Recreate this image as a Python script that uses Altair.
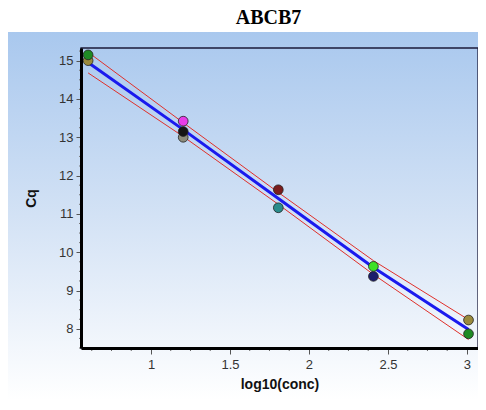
import altair as alt
import pandas as pd

# Data
pt_x = [0.602, 0.602, 1.204, 1.204, 1.204, 1.806, 1.806, 2.408, 2.408, 3.010, 3.010]
pt_cq = [15.00, 15.15, 13.00, 13.15, 13.42, 11.63, 11.16, 9.37, 9.63, 8.23, 7.87]
pt_color = ["#9a8a3c", "#1f8a24", "#8c8c7c", "#151515", "#e83ce8", "#7a1c1c",
            "#2a8c8c", "#1c1c6c", "#3ee028", "#9a8a3c", "#1f8a24"]

fit_x = [0.602, 1.204, 1.806, 2.408, 3.010]
fit_y = [14.95, 13.20, 11.40, 9.60, 7.98]
upper_y = [15.22, 13.38, 11.56, 9.78, 8.24]
lower_y = [14.68, 13.02, 11.25, 9.42, 7.72]

x_major = [1, 1.5, 2, 2.5, 3]
y_major = [8, 9, 10, 11, 12, 13, 14, 15]
x_minor = [0.625, 0.75, 0.875, 1.125, 1.25, 1.375, 1.625, 1.75, 1.875,
           2.125, 2.25, 2.375, 2.625, 2.75, 2.875]
y_minor = [7.5, 7.75, 8.25, 8.5, 8.75, 9.25, 9.5, 9.75, 10.25, 10.5, 10.75,
           11.25, 11.5, 11.75, 12.25, 12.5, 12.75, 13.25, 13.5, 13.75,
           14.25, 14.5, 14.75, 15.25]

W, H = 397, 300

points = pd.DataFrame({"x": pt_x, "cq": pt_cq, "c": pt_color})
fit = pd.DataFrame({"x": fit_x, "cq": fit_y})
band = pd.DataFrame({
    "x": fit_x + fit_x,
    "cq": upper_y + lower_y,
    "band": ["upper"] * len(fit_x) + ["lower"] * len(fit_x),
})

xscale = alt.Scale(domain=[0.557, 3.07], nice=False, zero=False)
yscale = alt.Scale(domain=[7.5, 15.33], nice=False, zero=False)

xaxis = alt.Axis(title="log10(conc)", values=x_major, grid=False, tickSize=6,
                 format="~g", labelPadding=4, titlePadding=6, zindex=2)
yaxis = alt.Axis(title="Cq", values=y_major, grid=False, tickSize=5,
                 format="~g", labelPadding=3, titlePadding=20, zindex=2)

grad = alt.LinearGradient(
    gradient="linear", x1=0, y1=0, x2=0, y2=1,
    stops=[alt.GradientStop(color="#a9c8ee", offset=0),
           alt.GradientStop(color="#d3e2f5", offset=0.5),
           alt.GradientStop(color="#ffffff", offset=1)],
)

bg = alt.Chart(pd.DataFrame({"a": [0]})).mark_rect(fill=grad).encode(
    x=alt.value(-76), x2=alt.value(399), y=alt.value(-16), y2=alt.value(352)
)

border = alt.Chart(pd.DataFrame({"a": [0]})).mark_rect(
    filled=False, stroke="#1b1b3b", strokeWidth=1.3
).encode(x=alt.value(0), x2=alt.value(W), y=alt.value(0), y2=alt.value(H))

xminor = alt.Chart(pd.DataFrame({"x": x_minor})).mark_rule(
    color="#666666", strokeWidth=1
).encode(x=alt.X("x:Q", scale=xscale), y=alt.value(H), y2=alt.value(H + 3))

yminor = alt.Chart(pd.DataFrame({"y": y_minor})).mark_rule(
    color="#777777", strokeWidth=1
).encode(y=alt.Y("y:Q", scale=yscale), x=alt.value(-2), x2=alt.value(0))

band_lines = alt.Chart(band).mark_line(color="#e0302a", strokeWidth=1).encode(
    x=alt.X("x:Q", scale=xscale, axis=xaxis),
    y=alt.Y("cq:Q", scale=yscale, axis=yaxis),
    detail="band:N",
)

fit_line = alt.Chart(fit).mark_line(color="#1a1aee", strokeWidth=3).encode(
    x=alt.X("x:Q", scale=xscale),
    y=alt.Y("cq:Q", scale=yscale),
)

pts = alt.Chart(points).mark_circle(
    size=95, opacity=1, stroke="#222222", strokeWidth=0.8
).encode(
    x=alt.X("x:Q", scale=xscale),
    y=alt.Y("cq:Q", scale=yscale),
    color=alt.Color("c:N", scale=None),
)

chart = alt.layer(bg, border, xminor, yminor, band_lines, fit_line, pts).properties(
    width=W, height=H,
    title=alt.TitleParams(
        "ABCB7", font="Liberation Serif", fontSize=20, fontWeight="bold",
        color="black", anchor="middle", offset=4, dx=-11,
    ),
    autosize=alt.AutoSizeParams(type="none"),
    padding={"left": 73, "top": 40, "right": 0, "bottom": 54},
).configure_view(stroke=None).configure_axis(
    domainColor="black", domainWidth=3, tickColor="#555555",
    labelColor="#333333", labelFont="Liberation Sans", labelFontSize=13,
    titleFont="Liberation Sans", titleFontSize=14, titleFontWeight="bold",
    titleColor="#111111",
)

chart.save("out.html", embed_options={"renderer": "svg", "actions": False})
